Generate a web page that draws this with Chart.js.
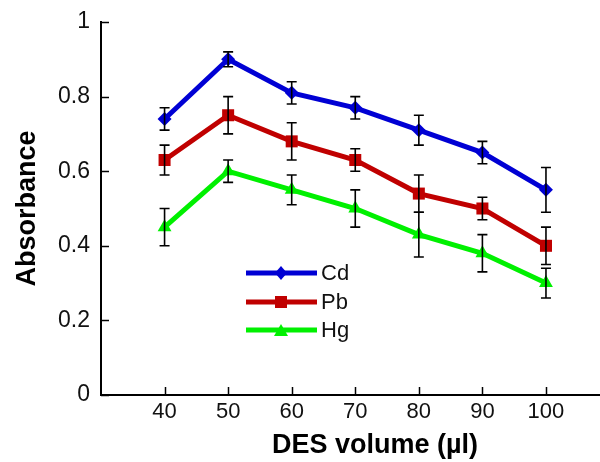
<!DOCTYPE html>
<html>
<head>
<meta charset="utf-8">
<script src="https://cdn.jsdelivr.net/npm/chart.js@4"></script>
<style>
  html, body { margin: 0; padding: 0; background: #fff; }
</style>
</head>
<body>
<canvas id="myChart" width="600" height="462"></canvas>
<script>
var volumes = [40, 50, 60, 70, 80, 90, 100];
var cd = [0.74, 0.90, 0.81, 0.77, 0.71, 0.65, 0.55];
var cdErr = [0.03, 0.02, 0.03, 0.03, 0.04, 0.03, 0.06];
var pb = [0.63, 0.75, 0.68, 0.63, 0.54, 0.50, 0.40];
var pbErr = [0.04, 0.05, 0.05, 0.03, 0.05, 0.03, 0.05];
var hg = [0.45, 0.60, 0.55, 0.50, 0.43, 0.38, 0.30];
var hgErr = [0.05, 0.03, 0.04, 0.05, 0.06, 0.05, 0.04];
var yTicks = [0, 0.2, 0.4, 0.6, 0.8, 1];

function pts(arr) {
  return volumes.map(function (v, i) { return { x: v, y: arr[i] }; });
}

function series(label, arr, err, color, style, r) {
  return {
    label: label,
    data: pts(arr),
    errors: err,
    borderColor: color,
    backgroundColor: color,
    borderWidth: 5,
    pointStyle: style,
    pointRadius: r,
    pointBorderWidth: 0,
    tension: 0
  };
}

var data = {
  datasets: [
    series('Cd', cd, cdErr, '#0000D4', 'rectRot', 7),
    series('Pb', pb, pbErr, '#C00000', 'rect', 8.5),
    series('Hg', hg, hgErr, '#00F000', 'triangle', 8)
  ]
};

// error bars, inward tick marks, x title and the inset legend
var extras = {
  id: 'extras',
  afterDatasetsDraw: function (chart) {
    var ctx = chart.ctx;
    var xs = chart.scales.x, ys = chart.scales.y;
    ctx.save();
    ctx.strokeStyle = '#000';
    ctx.lineWidth = 1.6;
    chart.data.datasets.forEach(function (ds) {
      ds.data.forEach(function (p, i) {
        var e = ds.errors[i];
        var px = xs.getPixelForValue(p.x);
        var top = ys.getPixelForValue(p.y + e);
        var bot = ys.getPixelForValue(p.y - e);
        ctx.beginPath();
        ctx.moveTo(px, top); ctx.lineTo(px, bot);
        ctx.moveTo(px - 5, top); ctx.lineTo(px + 5, top);
        ctx.moveTo(px - 5, bot); ctx.lineTo(px + 5, bot);
        ctx.stroke();
      });
    });

    // inward ticks
    ctx.lineWidth = 1.5;
    var area = chart.chartArea;
    yTicks.forEach(function (v) {
      var py = Math.round(ys.getPixelForValue(v)) + 0.5;
      ctx.beginPath();
      ctx.moveTo(area.left, py); ctx.lineTo(area.left + 8, py);
      ctx.stroke();
    });
    volumes.forEach(function (v) {
      var px = Math.round(xs.getPixelForValue(v)) + 0.5;
      ctx.beginPath();
      ctx.moveTo(px, area.bottom); ctx.lineTo(px, area.bottom - 8);
      ctx.stroke();
    });

    // x axis title
    ctx.fillStyle = '#000';
    ctx.font = 'bold 27px "Liberation Sans", Arial, sans-serif';
    ctx.textAlign = 'center';
    ctx.textBaseline = 'middle';
    ctx.fillText('DES volume (\u00b5l)', 375, 446);

    // legend
    var ly = [273, 302, 330];
    ctx.font = '22px "Liberation Sans", Arial, sans-serif';
    ctx.textAlign = 'left';
    chart.data.datasets.forEach(function (ds, k) {
      var y = ly[k];
      ctx.strokeStyle = ds.borderColor;
      ctx.lineWidth = 5;
      ctx.beginPath();
      ctx.moveTo(246, y); ctx.lineTo(317, y);
      ctx.stroke();
      ctx.fillStyle = ds.backgroundColor;
      var cx = 281;
      ctx.beginPath();
      if (ds.pointStyle === 'rectRot') {
        ctx.moveTo(cx, y - 7); ctx.lineTo(cx + 6, y); ctx.lineTo(cx, y + 7); ctx.lineTo(cx - 6, y);
      } else if (ds.pointStyle === 'rect') {
        ctx.rect(cx - 6, y - 6, 12, 12);
      } else {
        ctx.moveTo(cx, y - 6); ctx.lineTo(cx + 7, y + 6); ctx.lineTo(cx - 7, y + 6);
      }
      ctx.closePath();
      ctx.fill();
      ctx.fillStyle = '#111';
      ctx.fillText(ds.label, 321, y + 1);
    });
    ctx.restore();
  }
};

var options = {
  responsive: false,
  animation: false,
  layout: { autoPadding: false, padding: { top: 22, right: 0, left: 0, bottom: 0 } },
  plugins: { legend: { display: false }, tooltip: { enabled: false } },
  scales: {
    x: {
      type: 'linear',
      min: 30,
      max: 108.5,
      afterBuildTicks: function (s) { s.ticks = volumes.map(function (v) { return { value: v }; }); },
      afterFit: function (s) { s.height = 67; s.paddingLeft = 0; s.paddingRight = 0; },
      grid: { display: false, drawTicks: false },
      border: { display: true, color: '#000', width: 2 },
      ticks: {
        padding: 4,
        color: '#111',
        font: { family: '"Liberation Sans", Arial, sans-serif', size: 22 }
      }
    },
    y: {
      min: 0,
      max: 1,
      afterBuildTicks: function (s) { s.ticks = yTicks.map(function (v) { return { value: v }; }); },
      afterFit: function (s) { s.width = 101; s.paddingTop = 0; s.paddingBottom = 0; },
      grid: { display: false, drawTicks: false },
      border: { display: true, color: '#000', width: 2 },
      ticks: {
        padding: 11,
        color: '#111',
        font: { family: '"Liberation Sans", Arial, sans-serif', size: 23 },
        callback: function (v) { return String(Math.round(v * 10) / 10); }
      },
      title: {
        display: true,
        text: 'Absorbance',
        color: '#000',
        padding: { top: 11, bottom: 0 },
        font: { family: '"Liberation Sans", Arial, sans-serif', size: 27, weight: 'bold' }
      }
    }
  }
};

var ctx = document.getElementById('myChart').getContext('2d');
var myChart = new Chart(ctx, {
  type: 'line',
  data: data,
  options: options,
  plugins: [extras]
});
</script>
</body>
</html>
